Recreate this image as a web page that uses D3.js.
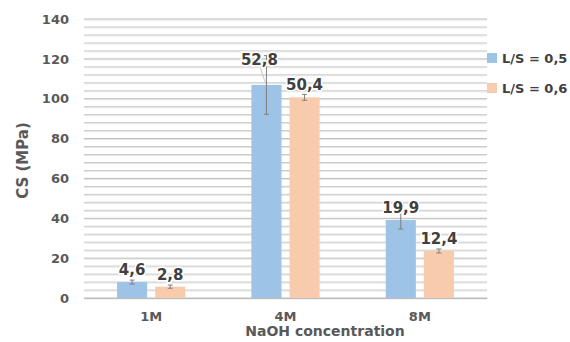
<!DOCTYPE html>
<html lang="en">
<head>
<meta charset="UTF-8">
<title>CS vs NaOH concentration</title>
<script src="https://d3js.org/d3.v7.min.js"></script>
<style>
    body { margin: 0; background: #fff; }
    svg text { font-family: "DejaVu Sans", Verdana, sans-serif; font-weight: bold; }
</style>
</head>
<body>
<div id="chart"></div>
<script>
// data
const categories = ["1M", "4M", "8M"];
const series = ["L/S = 0,5", "L/S = 0,6"];
const cs05 = [8.0, 106.9, 39.1];
const cs06 = [5.7, 100.7, 23.6];
const err05 = [1.0, 14.7, 4.5];
const err06 = [0.8, 1.5, 1.0];
const labels05 = ["4,6", "52,8", "19,9"];
const labels06 = ["2,8", "50,4", "12,4"];
const yTicks = [0, 20, 40, 60, 80, 100, 120, 140];

const W = 570, H = 342;
const margin = { top: 19, right: 83, bottom: 44, left: 84 };
const colors = ["#9dc3e6", "#f8cbad"];

const svg = d3.select("#chart").append("svg")
    .attr("width", W).attr("height", H);

const x0 = d3.scaleBand().domain(categories)
    .range([margin.left, W - margin.right]);
const x1 = d3.scaleBand().domain(series)
    .range([0.246 * x0.bandwidth(), 0.754 * x0.bandwidth()])
    .paddingInner(0.21);
const y = d3.scaleLinear().domain([0, 140])
    .range([H - margin.bottom, margin.top]);

// gridlines, minor every 4
const grid = d3.range(0, 141, 4);
svg.append("g").selectAll("line").data(grid).enter().append("line")
    .attr("x1", margin.left).attr("x2", W - margin.right)
    .attr("y1", d => y(d) + 1).attr("y2", d => y(d) + 1)
    .attr("stroke", "#e6e6e6").attr("stroke-width", 1);
svg.append("g").selectAll("line").data(grid).enter().append("line")
    .attr("x1", margin.left).attr("x2", W - margin.right)
    .attr("y1", d => y(d)).attr("y2", d => y(d))
    .attr("stroke", d => d % 20 === 0 ? "#bdbdbd" : "#cbcbcb").attr("stroke-width", 1);

// y axis
const yAxis = svg.append("g")
    .attr("transform", `translate(${margin.left},0)`)
    .call(d3.axisLeft(y).tickValues(yTicks).tickSize(0).tickPadding(15));
yAxis.select(".domain").remove();
yAxis.selectAll("text").attr("fill", "#595959").style("font-size", "13px");

// x axis
const xAxis = svg.append("g")
    .attr("transform", `translate(0,${H - margin.bottom})`)
    .call(d3.axisBottom(x0).tickSize(0).tickPadding(14));
xAxis.select(".domain").attr("stroke", "#bdbdbd");
xAxis.selectAll("text").attr("fill", "#595959").style("font-size", "13px");

const rows = [];
categories.forEach((c, i) => {
    rows.push({ cat: c, s: series[0], v: cs05[i], e: err05[i], lab: labels05[i], k: 0 });
    rows.push({ cat: c, s: series[1], v: cs06[i], e: err06[i], lab: labels06[i], k: 1 });
});

const bx = d => x0(d.cat) + x1(d.s);
const cx = d => bx(d) + x1.bandwidth() / 2;

// bars
svg.append("g").selectAll("rect").data(rows).enter().append("rect")
    .attr("x", bx).attr("width", x1.bandwidth())
    .attr("y", d => y(d.v)).attr("height", d => y(0) - y(d.v))
    .attr("fill", d => colors[d.k]);

// error bars
const eb = svg.append("g").attr("stroke", "#7f7f7f").attr("stroke-width", 1);
rows.forEach(d => {
    const top = y(d.v + d.e), bot = y(d.v - d.e);
    eb.append("line").attr("x1", cx(d)).attr("x2", cx(d)).attr("y1", top).attr("y2", bot);
    [top, bot].forEach(t => eb.append("line")
        .attr("x1", cx(d) - 2.5).attr("x2", cx(d) + 2.5).attr("y1", t).attr("y2", t));
});

// data labels (the 4M / L/S 0,5 label was dragged up with a leader line)
const moved = d => d.cat === "4M" && d.k === 0;
rows.forEach(d => {
    const lx = cx(d) + (moved(d) ? -7 : 0);
    const ly = y(d.v) - (moved(d) ? 20 : 7);
    if (moved(d)) {
        svg.append("line").attr("x1", lx + 1).attr("y1", ly + 3)
            .attr("x2", cx(d) - 1).attr("y2", y(d.v) - 2)
            .attr("stroke", "#c8c8c8").attr("stroke-width", 1);
    }
    svg.append("text").attr("x", lx).attr("y", ly)
        .attr("text-anchor", "middle").attr("fill", "#404040")
        .style("font-size", "15px")
        .attr("stroke", "#fff").attr("stroke-width", 3).attr("paint-order", "stroke")
        .text(d.lab);
});

// axis titles
svg.append("text")
    .attr("transform", `translate(28,${(margin.top + H - margin.bottom) / 2 + 2}) rotate(-90)`)
    .attr("text-anchor", "middle").attr("fill", "#595959").style("font-size", "15px")
    .text("CS (MPa)");
svg.append("text").attr("x", 325).attr("y", 336)
    .attr("text-anchor", "middle").attr("fill", "#595959").style("font-size", "14px")
    .text("NaOH concentration");

// legend
const lg = svg.append("g").attr("transform", `translate(${W - margin.right},53)`);
series.forEach((s, i) => {
    lg.append("rect").attr("x", 0).attr("y", i * 30).attr("width", 10).attr("height", 10)
        .attr("fill", colors[i]);
    lg.append("text").attr("x", 15).attr("y", i * 30 + 10)
        .attr("fill", "#404040").style("font-size", "13px").text(s);
});
</script>
</body>
</html>
